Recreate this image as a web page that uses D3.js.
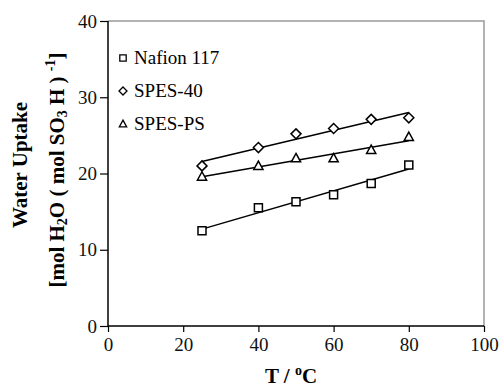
<!DOCTYPE html>
<html>
<head>
    <meta charset="utf-8">
    <style>
        body {
            margin: 0;
            background: white;
        }

        svg text {
            font-family: 'Liberation Serif', 'DejaVu Serif', serif;
        }

        .tick text {
            font-size: 19px;
            fill: #111;
        }

        .title {
            font-weight: bold;
            font-size: 21px;
        }

        .legend-label {
            font-size: 19px;
        }
    </style>
</head>

<body>
    <svg width="500" height="387"></svg>

<script src="https://d3js.org/d3.v7.min.js"></script>
<script>
    // values
    let temps = [25, 40, 50, 60, 70, 80]
    let nafion = [12.5, 15.5, 16.3, 17.2, 18.7, 21.1]
    let spes40 = [21.0, 23.4, 25.2, 25.9, 27.1, 27.3]
    let spesPS = [19.6, 21.0, 22.0, 22.0, 23.1, 24.8]
    let seriesNames = ["Nafion 117", "SPES-40", "SPES-PS"]
    let xTicks = [0, 20, 40, 60, 80, 100]
    let yTicks = [0, 10, 20, 30, 40]

    let series = [
        { name: seriesNames[0], values: nafion, shape: "square" },
        { name: seriesNames[1], values: spes40, shape: "diamond" },
        { name: seriesNames[2], values: spesPS, shape: "triangle" }
    ]

    let svg = d3.select("svg")

    let x = d3.scaleLinear().domain([0, 100]).range([108, 484])
    let y = d3.scaleLinear().domain([0, 40]).range([326, 21])

    // gray frame on top and right
    svg.append("path")
        .attr("d", `M${x(0)},${y(40)}H${x(100)}V${y(0)}`)
        .style("fill", "none")
        .style("stroke", "#999")
        .style("stroke-width", 1.5)

    let xAxis = svg.append("g")
        .attr("transform", `translate(0,${y(0)})`)
        .call(d3.axisBottom(x).tickValues(xTicks).tickSize(6).tickPadding(6))

    let yAxis = svg.append("g")
        .attr("transform", `translate(${x(0)},0)`)
        .call(d3.axisLeft(y).tickValues(yTicks).tickSize(8).tickPadding(3))

    xAxis.attr("font-family", null).attr("font-size", null)
    yAxis.attr("font-family", null).attr("font-size", null)
    svg.selectAll(".tick text").style("font-family", "'Liberation Serif', serif")

    svg.selectAll(".domain")
        .style("stroke", "#000")
        .style("stroke-width", 1.5)
    svg.selectAll(".tick line")
        .style("stroke", "#000")
        .style("stroke-width", 1.2)
    xAxis.selectAll(".domain").attr("d", `M${x(0)},0H${x(100)}`)
    yAxis.selectAll(".domain").attr("d", `M0,${y(40)}V${y(0)}`)

    // marker shapes
    function marker(shape, s) {
        if (shape == "square") return `M${-s},${-s}H${s}V${s}H${-s}Z`
        if (shape == "diamond") return `M0,${-s * 1.25}L${s * 1.25},0L0,${s * 1.25}L${-s * 1.25},0Z`
        return `M0,${-s * 1.2}L${s * 1.15},${s * 0.9}L${-s * 1.15},${s * 0.9}Z`
    }

    // least squares trend lines
    function fit(vals) {
        let mx = d3.mean(temps), my = d3.mean(vals)
        let sxy = d3.sum(temps, (t, i) => (t - mx) * (vals[i] - my))
        let sxx = d3.sum(temps, t => (t - mx) * (t - mx))
        let b = sxy / sxx
        return t => my + b * (t - mx)
    }

    series.forEach(s => {
        let f = fit(s.values)
        let t0 = d3.min(temps), t1 = d3.max(temps)
        svg.append("line")
            .attr("x1", x(t0)).attr("y1", y(f(t0)))
            .attr("x2", x(t1)).attr("y2", y(f(t1)))
            .style("stroke", "#000")
            .style("stroke-width", 1.5)
    })

    series.forEach(s => {
        svg.selectAll(null)
            .data(s.values)
            .join("path")
            .attr("transform", (d, i) => `translate(${x(temps[i])},${y(d)})`)
            .attr("d", marker(s.shape, 4))
            .style("fill", "white")
            .style("stroke", "#000")
            .style("stroke-width", 1.5)
    })

    // legend
    let legend = svg.selectAll(".legend")
        .data(series)
        .join("g")
        .attr("transform", (d, i) => `translate(123,${58 + i * 33})`)

    legend.append("path")
        .attr("d", d => marker(d.shape, 3.2))
        .style("fill", "white")
        .style("stroke", "#000")
        .style("stroke-width", 1.3)

    legend.append("text")
        .attr("class", "legend-label")
        .attr("x", 11)
        .attr("y", 6)
        .text(d => d.name)

    // axis titles
    let xt = svg.append("text")
        .attr("class", "title")
        .attr("x", 291)
        .attr("y", 383)
        .attr("text-anchor", "middle")
    xt.append("tspan").text("T / ")
    xt.append("tspan").attr("dy", -8).style("font-size", "14px").text("o")
    xt.append("tspan").attr("dy", 8).text("C")

    svg.append("text")
        .attr("class", "title")
        .attr("transform", "translate(27,165) rotate(-90)")
        .attr("text-anchor", "middle")
        .text("Water Uptake")

    let yt = svg.append("text")
        .attr("class", "title")
        .attr("transform", "translate(64,170) rotate(-90)")
        .attr("text-anchor", "middle")
    yt.append("tspan").text("[mol H")
    yt.append("tspan").attr("dy", 3).style("font-size", "14px").text("2")
    yt.append("tspan").attr("dy", -3).text("O ( mol SO")
    yt.append("tspan").attr("dy", 3).style("font-size", "14px").text("3")
    yt.append("tspan").attr("dy", -3).text(" H ) ")
    yt.append("tspan").attr("dy", -9).style("font-size", "14px").text("-1")
    yt.append("tspan").attr("dy", 9).text("]")
</script>
</body>
</html>
